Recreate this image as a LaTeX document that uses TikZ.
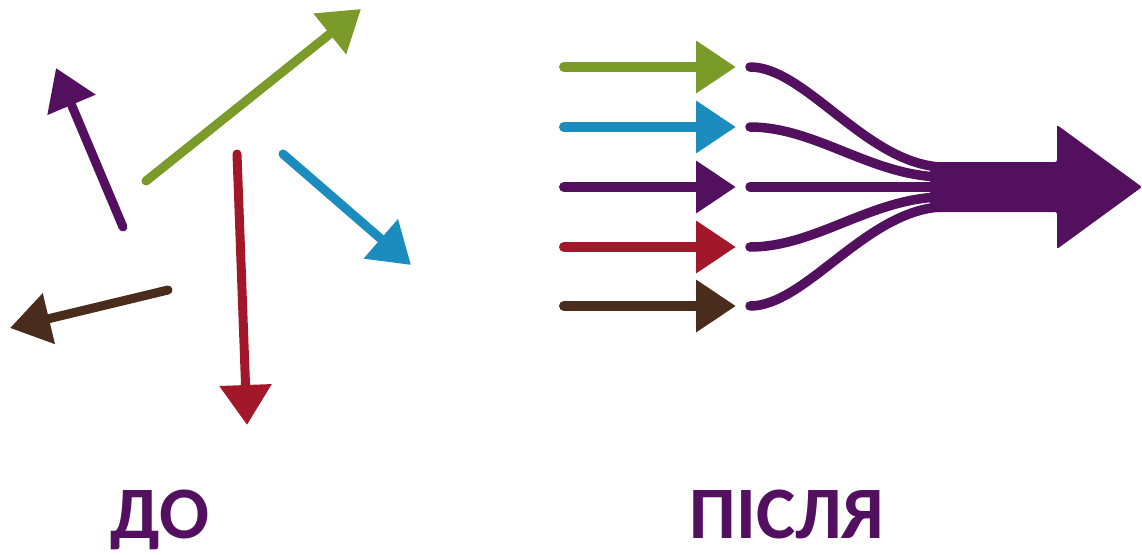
\documentclass[tikz,border=0pt]{standalone}
\usepackage{fontspec}
\setmainfont{Carlito}
\usetikzlibrary{arrows.meta}
\definecolor{cgreen}{HTML}{7A9A2A}
\definecolor{cblue}{HTML}{1A8CBE}
\definecolor{cpurple}{HTML}{52105F}
\definecolor{cred}{HTML}{A3172B}
\definecolor{cbrown}{HTML}{4A2C1D}
\begin{document}
\begin{tikzpicture}[x=1pt,y=-1pt,
  arr/.style={line width=9pt,line cap=round,-{Triangle[length=40pt,width=50pt]}},
  flow/.style={line width=9.5pt,line cap=round,cpurple},
  lbl/.style={anchor=base,text=cpurple,font=\fontsize{74}{76}\selectfont\bfseries,inner sep=0pt}]
\useasboundingbox (0,0) rectangle (1142,554);
% left: scattered arrows
\coordinate (pA) at (123,227); \coordinate (pB) at (56,68);
\coordinate (gA) at (146,181); \coordinate (gB) at (361,9);
\coordinate (rA) at (237,154); \coordinate (rB) at (247,425);
\coordinate (bA) at (283,154); \coordinate (bB) at (411,265);
\coordinate (nA) at (168,290); \coordinate (nB) at (10,328);
\draw[arr,cpurple] (pA) -- (pB);
\draw[arr,cgreen] (gA) -- (gB);
\draw[arr,cred] (rA) -- (rB);
\draw[arr,cblue] (bA) -- (bB);
\draw[arr,cbrown] (nA) -- (nB);
% right: parallel arrows
\foreach \n/\y/\c in {1/67/cgreen,2/127/cblue,3/187/cpurple,4/247/cred,5/306/cbrown}{
  \coordinate (s\n) at (564,\y);
  \coordinate (e\n) at (736,\y);
  \coordinate (c\n) at (750,\y);
  \draw[arr,\c,line width=10pt] (s\n) -- (e\n);
}
\coordinate (m1) at (940,167);
\coordinate (m2) at (940,177);
\coordinate (m3) at (940,187);
\coordinate (m4) at (940,197);
\coordinate (m5) at (940,207);
\draw[flow] (c1) .. controls (805,67) and (865,162) .. (m1);
\draw[flow] (c2) .. controls (815,127) and (870,175) .. (m2);
\draw[flow] (c3) -- (m3);
\draw[flow] (c4) .. controls (815,247) and (870,199) .. (m4);
\draw[flow] (c5) .. controls (805,306) and (865,212) .. (m5);
% big arrow
\coordinate (t1) at (930,162);
\coordinate (tip) at (1142,187);
\fill[cpurple,rounded corners=2pt] (t1) -- (1057,162) -- (1057,125) -- (tip) -- (1057,249) -- (1057,212) -- (930,212) -- cycle;
% labels
\node[lbl] (before) at (160,538) {ДО};
\node[lbl] (after) at (787,538) {ПІСЛЯ};
\end{tikzpicture}
\end{document}
